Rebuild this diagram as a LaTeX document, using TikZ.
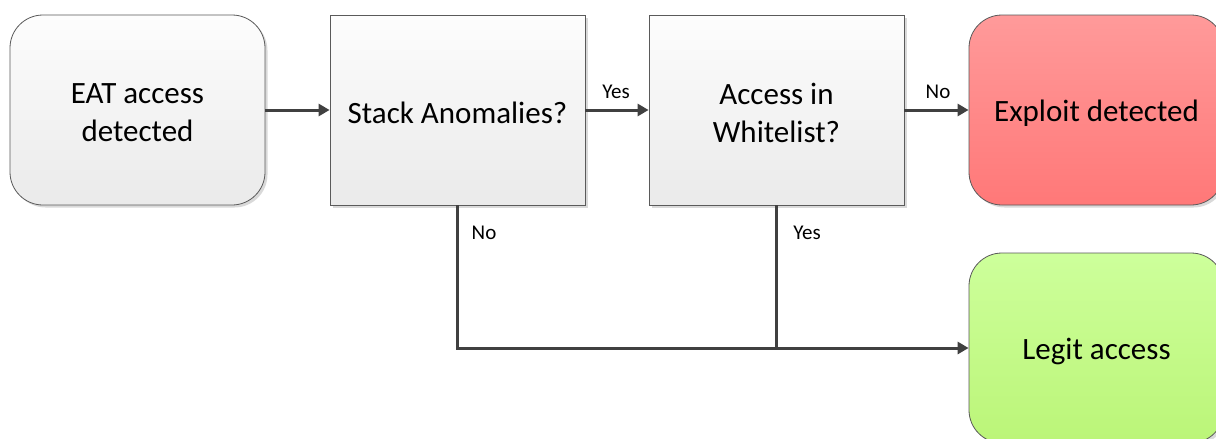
\documentclass[tikz,border=0pt]{standalone}
\usepackage{fontspec}
\setmainfont{Carlito}
\usetikzlibrary{arrows.meta,shadows}
\definecolor{edge}{HTML}{5A5A5A}
\definecolor{conncol}{HTML}{404040}
\definecolor{graytop}{HTML}{FDFDFD}
\definecolor{graybot}{HTML}{EAEAEA}
\definecolor{redtop}{HTML}{FF9A9A}
\definecolor{redbot}{HTML}{FF7878}
\definecolor{greentop}{HTML}{CDFF9B}
\definecolor{greenbot}{HTML}{BBF578}
\tikzset{
  box/.style={draw=edge, line width=0.8pt, minimum width=255pt, minimum height=190pt,
    inner sep=0pt,
    drop shadow={shadow xshift=2.5pt, shadow yshift=-2.5pt, fill=black, opacity=0.15}},
  boxtext/.style={align=center, font=\fontsize{31}{38}\selectfont, inner sep=0pt, yshift=-3pt},
  graybox/.style={box, top color=graytop, bottom color=graybot},
  roundbox/.style={rounded corners=33pt},
  redbox/.style={box, roundbox, top color=redtop, bottom color=redbot},
  greenbox/.style={box, roundbox, top color=greentop, bottom color=greenbot},
  conn/.style={draw=conncol, line width=3pt, -{Triangle[length=11pt,width=12pt]}},
  plain/.style={draw=conncol, line width=3pt},
  lbl/.style={font=\fontsize{21}{24}\selectfont, inner sep=0pt}
}
\begin{document}
\begin{tikzpicture}[x=1pt,y=-1pt]
\useasboundingbox[fill=white] (0,0) rectangle (1216,439);
\begin{scope}
\clip (0,0) rectangle (1216,439);
\node[graybox, roundbox, label={[boxtext]center:{EAT access\\detected}}] (eat) at (137.5,110) {};
\node[graybox, label={[boxtext]center:{Stack Anomalies?}}] (stack) at (457.5,110) {};
\node[graybox, label={[boxtext]center:{Access in\\Whitelist?}}] (wl) at (776.5,110) {};
\node[redbox, label={[boxtext]center:{Exploit detected}}] (exploit) at (1096.5,110) {};
\node[greenbox, label={[boxtext]center:{Legit access}}] (legit) at (1096.5,348) {};
\end{scope}
\coordinate (join) at (wl.south |- legit.west);
\draw[conn] (eat.east) -- (stack.west);
\draw[conn] (stack.east) -- (wl.west);
\draw[conn] (wl.east) -- (exploit.west);
\draw[conn] (stack.south) |- (legit.west);
\draw[plain] (wl.south) -- (join);
\node[lbl] (lyes1) at (616,92) {Yes};
\node[lbl] (lno1) at (938,92) {No};
\node[lbl] (lno2) at (484,233) {No};
\node[lbl] (lyes2) at (807,233) {Yes};
\end{tikzpicture}
\end{document}
